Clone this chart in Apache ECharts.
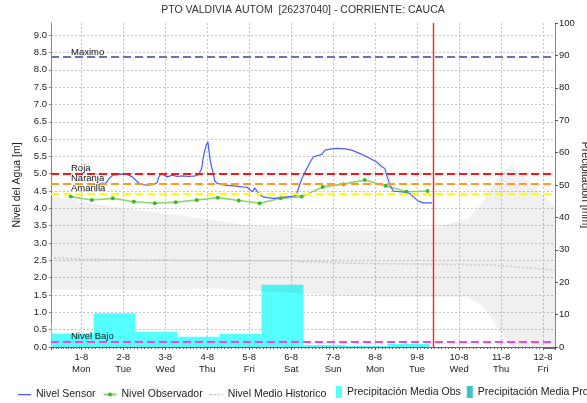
<!DOCTYPE html>
<html>
<head>
<meta charset="utf-8">
<script src="https://cdn.jsdelivr.net/npm/echarts@6/dist/echarts.min.js"></script>
<style>
  html, body { margin: 0; padding: 0; background: #ffffff; }
  #chart { width: 587px; height: 403px; }
</style>
</head>
<body>
<div id="chart"></div>
<script>
// ---- Station data -------------------------------------------------------

// Sensor water level (m)
const sensorTimes = [
  '2022-08-01 11:00','2022-08-01 14:00','2022-08-01 16:00','2022-08-01 18:00','2022-08-01 22:30',
  '2022-08-02 02:20','2022-08-02 05:10','2022-08-02 08:00','2022-08-02 10:00','2022-08-02 13:45',
  '2022-08-02 17:30','2022-08-02 19:25','2022-08-02 20:20','2022-08-02 21:45','2022-08-02 22:50',
  '2022-08-03 01:10','2022-08-03 04:00','2022-08-03 06:50','2022-08-03 09:40','2022-08-03 13:30',
  '2022-08-03 17:15','2022-08-03 19:10','2022-08-03 20:45','2022-08-03 22:00','2022-08-03 23:25',
  '2022-08-04 00:20','2022-08-04 00:50','2022-08-04 01:50','2022-08-04 03:10','2022-08-04 04:20',
  '2022-08-04 05:40','2022-08-04 10:25','2022-08-04 15:05','2022-08-04 19:55','2022-08-04 22:45',
  '2022-08-05 00:40','2022-08-05 02:00','2022-08-05 03:05','2022-08-05 04:05','2022-08-05 05:25',
  '2022-08-05 06:55','2022-08-05 08:15','2022-08-05 10:10','2022-08-05 14:00','2022-08-05 17:45',
  '2022-08-05 21:35','2022-08-06 01:20','2022-08-06 02:55','2022-08-06 04:10','2022-08-06 06:10',
  '2022-08-06 08:00','2022-08-06 10:50','2022-08-06 12:45','2022-08-06 17:30','2022-08-06 19:25',
  '2022-08-06 22:15','2022-08-07 02:05','2022-08-07 06:50','2022-08-07 10:40','2022-08-07 16:20',
  '2022-08-07 21:05','2022-08-08 00:55','2022-08-08 03:45','2022-08-08 05:35','2022-08-08 06:35',
  '2022-08-08 08:30','2022-08-08 10:20','2022-08-08 14:10','2022-08-08 18:00','2022-08-08 19:50',
  '2022-08-08 21:45','2022-08-09 00:35','2022-08-09 03:30','2022-08-09 08:35'
];
const sensorLevels = [
  4.73, 4.72, 4.87, 4.96, 4.99,
  4.98, 4.91, 4.77, 4.69, 4.67,
  4.69, 4.75, 4.91, 5.01, 5.04,
  4.91, 4.96, 4.92, 4.94, 4.92,
  4.94, 4.98, 5.15, 5.54, 5.83,
  5.92, 5.73, 5.34, 5.06, 4.79,
  4.72, 4.67, 4.65, 4.62, 4.61,
  4.53, 4.48, 4.59, 4.58, 4.43,
  4.36, 4.33, 4.31, 4.29, 4.31,
  4.33, 4.35, 4.38, 4.58, 4.87,
  5.06, 5.34, 5.49, 5.56, 5.68,
  5.71, 5.73, 5.72, 5.68, 5.56,
  5.44, 5.34, 5.20, 5.15, 4.96,
  4.67, 4.50, 4.48, 4.46, 4.43,
  4.34, 4.21, 4.16, 4.16
];

// Observer readings (m), taken at 06:00 and 18:00
const observerTimes = [
  '2022-07-31 18:00','2022-08-01 06:00','2022-08-01 18:00','2022-08-02 06:00','2022-08-02 18:00',
  '2022-08-03 06:00','2022-08-03 18:00','2022-08-04 06:00','2022-08-04 18:00','2022-08-05 06:00',
  '2022-08-05 18:00','2022-08-06 06:00','2022-08-06 18:00','2022-08-07 06:00','2022-08-07 18:00',
  '2022-08-08 06:00','2022-08-08 18:00','2022-08-09 06:00'
];
const observerLevels = [
  4.34, 4.24, 4.29, 4.19, 4.15,
  4.18, 4.24, 4.31, 4.23, 4.15,
  4.29, 4.34, 4.62, 4.70, 4.82,
  4.65, 4.48, 4.50
];

// Historical range (min / max) and historical mean level (m)
const bandTimes = [
  '2022-07-31 06:00','2022-08-01 18:00','2022-08-02 12:00','2022-08-03 08:00','2022-08-04 03:00',
  '2022-08-04 22:00','2022-08-05 05:00','2022-08-06 02:00','2022-08-06 21:00','2022-08-08 02:00',
  '2022-08-09 08:00','2022-08-10 05:00','2022-08-10 13:00','2022-08-10 16:30','2022-08-10 20:20',
  '2022-08-11 00:10','2022-08-11 06:00','2022-08-11 15:10','2022-08-12 07:00'
];
const bandHigh = [
  4.36, 4.05, 3.93, 3.80, 3.66,
  3.52, 3.50, 3.47, 3.37, 3.35,
  3.42, 3.71, 4.14, 4.43, 4.72,
  5.00, 5.22, 4.82, 4.05
];
const bandLow = [
  1.67, 1.66, 1.64, 1.67, 1.69,
  1.64, 1.62, 1.55, 1.50, 1.45,
  1.45, 1.45, 1.20, 0.97, 0.68,
  0.40, 0.00, 0.00, 0.00
];
const meanTimes = [
  '2022-07-31 06:00','2022-08-01 12:00','2022-08-03 12:00','2022-08-06 00:00',
  '2022-08-07 18:00','2022-08-09 08:00','2022-08-10 18:00','2022-08-11 12:00','2022-08-12 07:00'
];
const meanLevels = [2.57, 2.52, 2.50, 2.48, 2.41, 2.39, 2.37, 2.30, 2.22];

// Daily precipitation (mm), hydrological day 07:00 -> 07:00
const precipStart = [
  '2022-07-30 07:00','2022-07-31 07:00','2022-08-01 07:00','2022-08-02 07:00','2022-08-03 07:00',
  '2022-08-04 07:00','2022-08-05 07:00','2022-08-06 07:00','2022-08-07 07:00','2022-08-08 07:00'
];
const precipEnd = [
  '2022-07-31 07:00','2022-08-01 07:00','2022-08-02 07:00','2022-08-03 07:00','2022-08-04 07:00',
  '2022-08-05 07:00','2022-08-06 07:00','2022-08-07 07:00','2022-08-08 07:00','2022-08-09 07:00'
];
const precipObs = [6.8, 4.2, 10.4, 4.7, 3.2, 4.0, 19.2, 0.6, 0.3, 0.9];
const precipForecast = [];

// Alert thresholds (m)
const levelNames = ['Maximo', 'Roja', 'Naranja', 'Amarilla', 'Nivel Bajo'];
const levelValues = [8.37, 5.0, 4.71, 4.42, 0.15];

// Axis range and current time
const timeStart = '2022-07-31 06:40';
const timeEnd = '2022-08-12 06:50';
const nowTime = '2022-08-09 09:00';
const weekDays = ['Sun', 'Mon', 'Tue', 'Wed', 'Thu', 'Fri', 'Sat'];

// ---- Chart ---------------------------------------------------------------

const FONT = '"Liberation Sans", Arial, sans-serif';
const levelColors = ['#6673ad', '#f01a1a', '#ff9a1e', '#ffff00', '#ee44ee'];
const toMs = s => new Date(s.replace(' ', 'T')).getTime();
const pairs = (ts, vs) => ts.map((t, i) => [toMs(t), vs[i]]);

// legend glyphs (13 x 5 box): solid stroke and dotted stroke
const ICON_SOLID = 'path://M0,0h0.01v0.01h-0.01z M0,1.9h13v1.3h-13z M12.99,4.99h0.01v0.01h-0.01z';
const ICON_DOTTED = 'path://M0,0h0.01v0.01h-0.01z M0,1.9h2v1.3h-2z M4,1.9h2v1.3h-2z M8,1.9h2v1.3h-2z M12,1.9h1v1.3h-1z M12.99,4.99h0.01v0.01h-0.01z';

const chart = echarts.init(document.getElementById('chart'), null, { renderer: 'canvas' });

function renderPrecip(params, api) {
  const p0 = api.coord([api.value(0), api.value(2)]);
  const p1 = api.coord([api.value(1), 0]);
  const cs = params.coordSys;
  const shape = echarts.graphic.clipRectByRect(
    { x: p0[0], y: p0[1], width: p1[0] - p0[0], height: p1[1] - p0[1] },
    { x: cs.x, y: cs.y, width: cs.width, height: cs.height }
  );
  return shape && { type: 'rect', shape: shape, style: api.style() };
}

const gridLine = { show: true, lineStyle: { color: '#c4c4c4', type: [2, 2], width: 1 } };

const option = {
  animation: false,
  textStyle: { fontFamily: FONT },
  title: {
    text: 'PTO VALDIVIA AUTOM  [26237040] - CORRIENTE: CAUCA',
    left: 303, top: 5, padding: 0, textAlign: 'center',
    textStyle: { fontSize: 10.5, fontWeight: 'normal', color: '#333', fontFamily: FONT }
  },
  legend: [
    {
      data: [
        { name: 'Nivel Sensor', icon: ICON_SOLID },
        { name: 'Nivel Observador' },
        { name: 'Nivel Medio Historico', icon: ICON_DOTTED }
      ],
      left: 18, top: 389, padding: 0, itemWidth: 13, itemHeight: 5, itemGap: 7,
      textStyle: { fontSize: 10.5, color: '#222', fontFamily: FONT }
    },
    {
      data: ['Precipitación Media Obs', 'Precipitación Media Pro'],
      left: 336, top: 386, width: 400, padding: 0, itemWidth: 6, itemHeight: 12, itemGap: 6,
      icon: 'rect',
      textStyle: { fontSize: 10.5, color: '#222', fontFamily: FONT }
    }
  ],
  grid: { left: 51, right: 32, top: 23, bottom: 56, containLabel: false, outerBoundsMode: 'none' },
  xAxis: {
    type: 'time',
    min: toMs(timeStart), max: toMs(timeEnd),
    minInterval: 86400000, maxInterval: 86400000, splitNumber: 12,
    axisLine: { show: true, lineStyle: { color: '#666' } },
    axisTick: { show: true, length: 3, lineStyle: { color: '#555' } },
    minorTick: { show: true, splitNumber: 12, length: 2, lineStyle: { color: '#666' } },
    splitLine: gridLine,
    axisLabel: {
      fontSize: 9.5, color: '#222', lineHeight: 12, margin: 4, fontFamily: FONT,
      formatter: v => {
        const d = new Date(v);
        return d.getDate() + '-' + (d.getMonth() + 1) + '\n' + weekDays[d.getDay()];
      }
    }
  },
  yAxis: [
    {
      type: 'value', min: 0, max: 9.35, interval: 0.5,
      name: 'Nivel del Agua [m]', nameLocation: 'middle', nameGap: 22.5, nameRotate: 90,
      nameTextStyle: { fontSize: 10.5, color: '#222', fontFamily: FONT },
      axisLine: { show: true, lineStyle: { color: '#888' } },
      axisTick: { show: true, length: 2, lineStyle: { color: '#888' } },
      axisLabel: { fontSize: 9.5, color: '#222', margin: 4, showMaxLabel: false,
        formatter: v => v.toFixed(1), fontFamily: FONT },
      splitLine: Object.assign({ showMaxLine: false, showMinLine: false }, gridLine)
    },
    {
      type: 'value', min: 0, max: 100, interval: 10, position: 'right',
      name: 'Precipitación [mm]', nameLocation: 'middle', nameGap: 24, nameRotate: -90,
      nameMoveOverlap: false,
      nameTextStyle: { fontSize: 10.5, color: '#222', fontFamily: FONT },
      axisLine: { show: true, lineStyle: { color: '#888' } },
      axisTick: { show: true, length: 3, lineStyle: { color: '#555' } },
      axisLabel: { fontSize: 9.5, color: '#222', margin: 4, fontFamily: FONT },
      splitLine: { show: false }
    }
  ],
  series: [
    {
      name: 'Precipitación Media Obs', type: 'custom', yAxisIndex: 1,
      renderItem: renderPrecip,
      itemStyle: { color: '#55ffff' },
      encode: { x: [0, 1], y: 2 },
      data: precipStart.map((s, i) => [toMs(s), toMs(precipEnd[i]), precipObs[i]])
    },
    {
      name: 'Precipitación Media Pro', type: 'custom', yAxisIndex: 1,
      renderItem: renderPrecip,
      itemStyle: { color: '#3cc6c6' },
      encode: { x: [0, 1], y: 2 },
      data: precipForecast
    },
    {
      name: 'bandBase', type: 'line', stack: 'hist', symbol: 'none', silent: true,
      lineStyle: { opacity: 0 },
      data: pairs(bandTimes, bandLow)
    },
    {
      name: 'bandRange', type: 'line', stack: 'hist', symbol: 'none', silent: true,
      lineStyle: { opacity: 0 },
      areaStyle: { color: 'rgba(0,0,0,0.06)', opacity: 1 },
      data: pairs(bandTimes, bandHigh.map((h, i) => h - bandLow[i]))
    },
    {
      name: 'Nivel Medio Historico', type: 'line', symbol: 'none',
      itemStyle: { color: '#b8b8b8' },
      lineStyle: { color: '#c8c8c8', width: 1.6, type: [2, 2] },
      data: pairs(meanTimes, meanLevels)
    },
    {
      name: 'levels', type: 'line', data: [], symbol: 'none',
      markLine: {
        silent: true, symbol: 'none',
        data: levelNames.map((n, i) => ({
          name: n, yAxis: levelValues[i],
          lineStyle: { color: levelColors[i], type: [8, 4], width: 2 },
          label: {
            show: true, position: 'insideStartTop', distance: [20, 0],
            formatter: '{b}', fontSize: 9.5, color: '#111', fontFamily: FONT
          }
        }))
      }
    },
    {
      name: 'now', type: 'line', data: [], symbol: 'none',
      markLine: {
        silent: true, symbol: 'none',
        label: { show: false },
        lineStyle: { color: '#ff1f1f', type: 'solid', width: 1.4, opacity: 1 },
        emphasis: { disabled: true },
        data: [{ xAxis: toMs(nowTime) }]
      }
    },
    {
      name: 'Nivel Observador', type: 'line', symbol: 'circle', symbolSize: 4,
      itemStyle: { color: '#3cb82a' },
      lineStyle: { color: '#8fd46e', width: 1.6 },
      data: pairs(observerTimes, observerLevels)
    },
    {
      name: 'Nivel Sensor', type: 'line', symbol: 'none',
      itemStyle: { color: '#4b5aff' },
      lineStyle: { color: '#4b5aff', width: 1.2 },
      data: pairs(sensorTimes, sensorLevels)
    }
  ]
};

chart.setOption(option);
</script>
</body>
</html>
